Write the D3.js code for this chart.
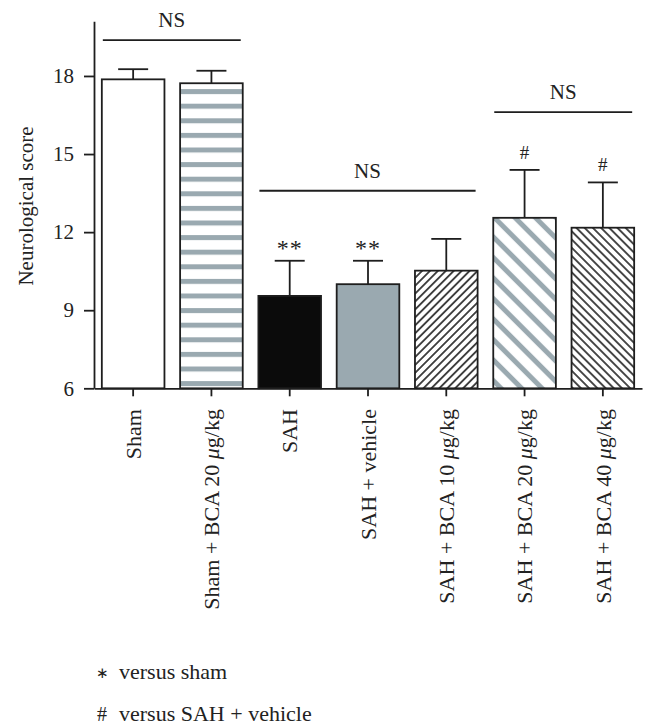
<!DOCTYPE html>
<html>
<head>
<meta charset="utf-8">
<script src="https://cdn.jsdelivr.net/npm/d3@7"></script>
<style>
  body { margin: 0; background: #fff; }
  svg { display: block; }
  text { font-family: "Liberation Serif", "Times New Roman", serif; fill: #222; }
</style>
</head>
<body>
<svg id="chart" width="658" height="726"></svg>
<script>
// ---- data ----
const categories = ["Sham", "Sham + BCA 20 \u03BCg/kg", "SAH", "SAH + vehicle",
  "SAH + BCA 10 \u03BCg/kg", "SAH + BCA 20 \u03BCg/kg", "SAH + BCA 40 \u03BCg/kg"];
const means = [17.87, 17.72, 9.55, 10.0, 10.52, 12.55, 12.17];
const errors = [0.39, 0.48, 1.35, 0.9, 1.22, 1.84, 1.74];
const sigMarks = ["", "", "**", "**", "", "#", "#"];
const yTicks = [6, 9, 12, 15, 18];
const nsGroups = [[0, 1], [2, 4], [5, 6]];
const nsLevels = [19.38, 13.59, 16.61];
const fills = ["white", "url(#hstripe)", "#0b0b0b", "#9aa9b0", "url(#diagFwd)", "url(#diagGrey)", "url(#diagBack)"];
const legendItems = [["\u2217", "versus sham"], ["#", "versus SAH + vehicle"]];

const svg = d3.select("#chart");
const ink = "#1e1e1e";
const grey = "#9aa9b0";

const x = d3.scaleBand().domain(categories).range([94, 642]).paddingInner(0.2).paddingOuter(0.1);
const y = d3.scaleLinear().domain([6, 20.1]).range([388.3, 21.3]);

// patterns
const defs = svg.append("defs");
const hs = defs.append("pattern").attr("id", "hstripe").attr("patternUnits", "userSpaceOnUse")
  .attr("width", 10).attr("height", 14.6).attr("y", 1.5);
hs.append("rect").attr("width", 10).attr("height", 14.6).attr("fill", "white");
hs.append("rect").attr("y", 0).attr("width", 10).attr("height", 5).attr("fill", grey);

function diag(id, spacing, angle, color, width) {
  const p = defs.append("pattern").attr("id", id).attr("patternUnits", "userSpaceOnUse")
    .attr("width", spacing).attr("height", spacing)
    .attr("patternTransform", `rotate(${angle})`);
  p.append("rect").attr("width", spacing).attr("height", spacing).attr("fill", "white");
  p.append("line").attr("x1", spacing / 2).attr("x2", spacing / 2).attr("y1", -1).attr("y2", spacing + 1)
    .attr("stroke", color).attr("stroke-width", width);
}
diag("diagFwd", 5.6, 45, ink, 1.6);
diag("diagBack", 5.8, -45, ink, 1.6);
diag("diagGrey", 14.5, -45, grey, 5);

// bars
svg.append("g").selectAll("rect").data(categories).join("rect")
  .attr("x", d => x(d)).attr("width", x.bandwidth())
  .attr("y", (d, i) => y(means[i])).attr("height", (d, i) => y(6) - y(means[i]))
  .attr("fill", (d, i) => fills[i]).attr("stroke", ink).attr("stroke-width", 1.8);

// error bars
const eb = svg.append("g").attr("stroke", ink).attr("stroke-width", 1.8);
categories.forEach((c, i) => {
  const cx = x(c) + x.bandwidth() / 2;
  eb.append("line").attr("x1", cx).attr("x2", cx).attr("y1", y(means[i])).attr("y2", y(means[i] + errors[i]));
  eb.append("line").attr("x1", cx - 15).attr("x2", cx + 15).attr("y1", y(means[i] + errors[i])).attr("y2", y(means[i] + errors[i]));
});

// significance marks
svg.append("g").selectAll("text").data(categories).join("text")
  .attr("x", d => x(d) + x.bandwidth() / 2)
  .attr("y", (d, i) => y(means[i] + errors[i]) - (sigMarks[i] === "#" ? 11 : 5))
  .attr("text-anchor", "middle")
  .attr("font-size", (d, i) => sigMarks[i] === "#" ? 19 : 24)
  .attr("letter-spacing", (d, i) => sigMarks[i] === "#" ? 0 : 1)
  .text((d, i) => sigMarks[i]);

// y axis
const yAxis = svg.append("g").attr("transform", "translate(94,0)")
  .call(d3.axisLeft(y).tickValues(yTicks).tickSize(10).tickPadding(10).tickSizeOuter(0));
yAxis.select(".domain").attr("stroke", ink).attr("stroke-width", 1.8);
yAxis.selectAll(".tick line").attr("stroke", ink).attr("stroke-width", 1.8);
yAxis.selectAll(".tick text").attr("font-size", 21).attr("font-family", "Liberation Serif").attr("fill", ink);

// x axis
const xAxis = svg.append("g").attr("transform", `translate(0,${y(6)})`)
  .call(d3.axisBottom(x).tickSize(8).tickSizeOuter(0).tickFormat(""));
xAxis.select(".domain").attr("stroke", ink).attr("stroke-width", 1.8);
xAxis.selectAll(".tick line").attr("stroke", ink).attr("stroke-width", 1.8);

// category labels (μ in italics)
const catText = svg.append("g").selectAll("text").data(categories).join("text")
  .attr("transform", d => `translate(${x(d) + x.bandwidth() / 2},409) rotate(-90)`)
  .attr("dy", "0.35em").attr("text-anchor", "end").attr("font-size", 22);
catText.each(function (d) {
  const t = d3.select(this);
  const parts = d.split("\u03BC");
  t.append("tspan").text(parts[0]);
  if (parts.length > 1) {
    t.append("tspan").attr("font-style", "italic").text("\u03BC");
    t.append("tspan").text(parts[1]);
  }
});

// y label
svg.append("text").attr("transform", "translate(33,206) rotate(-90)")
  .attr("text-anchor", "middle").attr("font-size", 21).text("Neurological score");

// NS brackets
nsGroups.forEach((g, i) => {
  const x1 = x(categories[g[0]]) + 1, x2 = x(categories[g[1]]) + x.bandwidth() - 2;
  const ly = y(nsLevels[i]);
  svg.append("line").attr("x1", x1).attr("x2", x2).attr("y1", ly).attr("y2", ly)
    .attr("stroke", ink).attr("stroke-width", 1.8);
  svg.append("text").attr("x", (x1 + x2) / 2).attr("y", ly - 13)
    .attr("text-anchor", "middle").attr("font-size", 21).text("NS");
});

// legend
const lg = svg.append("g");
legendItems.forEach((it, i) => {
  const by = 679 + i * 42;
  lg.append("text").attr("x", 102).attr("y", by).attr("font-size", it[0] === "#" ? 20 : 15)
    .attr("text-anchor", "middle").attr("dy", it[0] === "#" ? 0 : -1).text(it[0]);
  lg.append("text").attr("x", 119).attr("y", by).attr("font-size", 22).text(it[1]);
});
</script>
</body>
</html>
